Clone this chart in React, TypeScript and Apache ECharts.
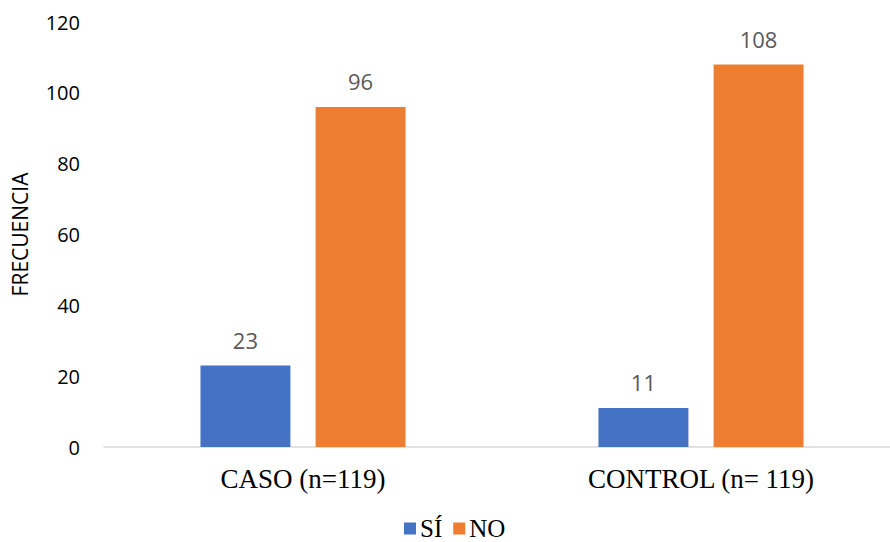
import React, { useEffect, useRef } from "react";
import * as echarts from "echarts";

const categories = ["CASO (n=119)", "CONTROL (n= 119)"];
const siValues = [23, 11];
const noValues = [96, 108];
const seriesNames = ["SÍ", "NO"];

export default function App() {
  const ref = useRef<HTMLDivElement>(null);
  useEffect(() => {
    if (!ref.current) return;
    const chart = echarts.init(ref.current, undefined, { renderer: "svg" });
    const labelStyle = {
      show: true,
      position: "top" as const,
      distance: 15,
      color: "#595959",
      fontSize: 22,
      fontFamily: "Open Sans",
    };
    chart.setOption({
      animation: false,
      backgroundColor: "#ffffff",
      grid: {
        left: 104,
        top: 22,
        width: 796,
        bottom: 95,
        containLabel: false,
        outerBoundsMode: "none",
      },
      legend: {
        top: 516,
        left: 404,
        padding: 0,
        itemWidth: 12,
        itemHeight: 12,
        itemGap: 11,
        icon: "rect",
        textStyle: { fontFamily: "Liberation Serif", fontSize: 25, color: "#000", padding: [0, 0, 0, -1] },
        data: seriesNames,
      },
      xAxis: {
        type: "category",
        data: categories,
        axisLine: { lineStyle: { color: "#d9d9d9", width: 1.5 } },
        axisTick: { show: false },
        axisLabel: {
          fontFamily: "Liberation Serif",
          fontSize: 27,
          color: "#000",
          margin: 18,
        },
      },
      yAxis: {
        type: "value",
        min: 0,
        max: 120,
        interval: 20,
        name: "FRECUENCIA",
        nameLocation: "middle",
        nameGap: 74,
        nameRotate: 90,
        nameTextStyle: { fontFamily: "Open Sans", fontSize: 21, color: "#000" },
        axisLine: { show: false },
        axisTick: { show: false },
        splitLine: { show: false },
        axisLabel: { fontFamily: "Open Sans", fontSize: 20, color: "#000", margin: 24 },
      },
      series: [
        {
          name: seriesNames[0],
          type: "bar",
          data: siValues,
          barWidth: "22.6%",
          barGap: "28%",
          itemStyle: { color: "#4472C4" },
          label: labelStyle,
        },
        {
          name: seriesNames[1],
          type: "bar",
          data: noValues,
          barWidth: "22.6%",
          barGap: "28%",
          itemStyle: { color: "#ED7D31" },
          label: labelStyle,
        },
      ],
    });
    return () => chart.dispose();
  }, []);
  return (
    <div
      ref={ref}
      style={{ position: "fixed", left: 0, top: 0, width: 890, height: 542, overflow: "hidden" }}
    />
  );
}
